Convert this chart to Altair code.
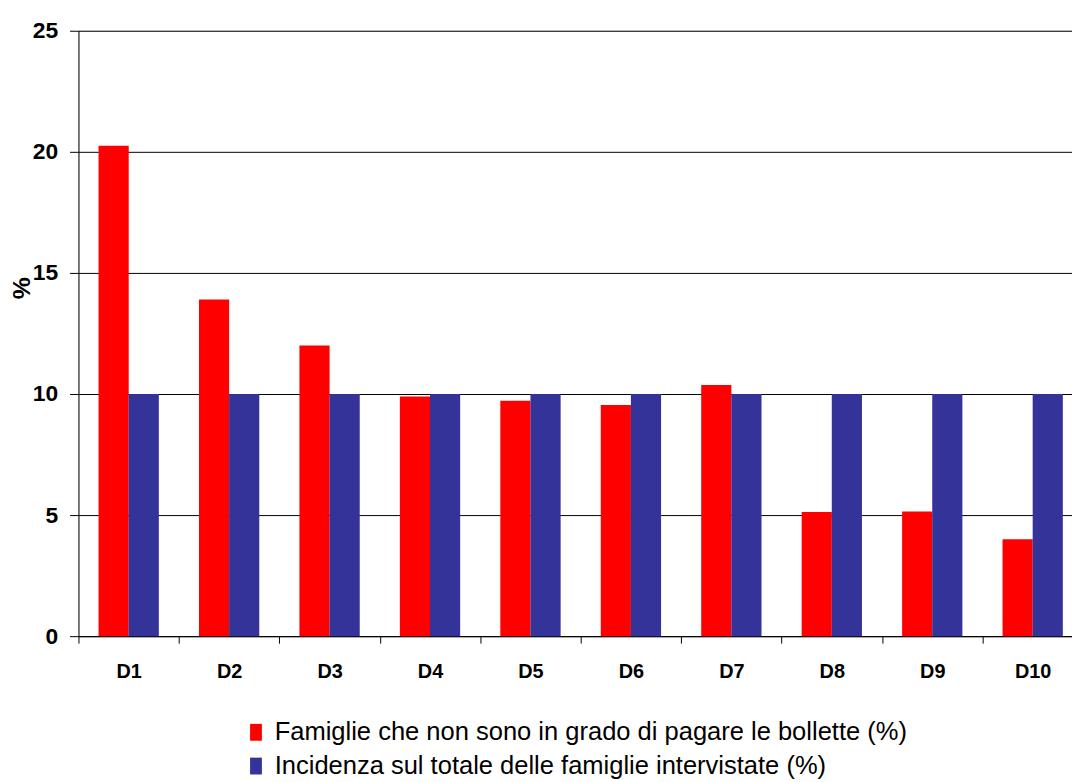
import altair as alt
import pandas as pd

categories = ["D1", "D2", "D3", "D4", "D5", "D6", "D7", "D8", "D9", "D10"]
series_names = [
    "Famiglie che non sono in grado di pagare le bollette (%)",
    "Incidenza sul totale delle famiglie intervistate (%)",
]
red_values = [20.25, 13.9, 12.0, 9.9, 9.72, 9.55, 10.37, 5.13, 5.15, 4.0]
blue_values = [10, 10, 10, 10, 10, 10, 10, 10, 10, 10]
colors = ["#FF0000", "#333399"]

rows = []
for c, r, b in zip(categories, red_values, blue_values):
    rows.append({"cat": c, "series": series_names[0], "value": r})
    rows.append({"cat": c, "series": series_names[1], "value": b})
df = pd.DataFrame(rows)

FONT = "Liberation Sans"

chart = alt.Chart(df).mark_bar(size=30.4).encode(
    x=alt.X(
        "cat:N",
        sort=categories,
        scale=alt.Scale(range=[0, 1012], paddingInner=0, paddingOuter=0),
        axis=alt.Axis(
            title=None, labelAngle=0, tickBand="extent", labelFont=FONT,
            labelFontSize=20, labelFontWeight="bold", labelColor="black",
            tickColor="black", tickSize=7, domainColor="black", labelPadding=19,
            grid=False,
        ),
    ),
    xOffset=alt.XOffset(
        "series:N", sort=series_names,
        scale=alt.Scale(paddingInner=0, paddingOuter=0.667),
    ),
    y=alt.Y(
        "value:Q",
        scale=alt.Scale(domain=[0, 25], nice=False),
        axis=alt.Axis(
            title="%", values=[0, 5, 10, 15, 20, 25], labelFont=FONT,
            labelFontSize=23, labelFontWeight="bold", labelColor="black",
            tickColor="black", tickSize=9, labelPadding=12, domainColor="black",
            gridColor="black", gridWidth=1, gridOpacity=1,
            titleFont=FONT, titleFontSize=25, titleFontWeight="bold",
            titleColor="black", titleX=-57, titleY=259, titleAngle=-90,
            titleBaseline="middle", titleAlign="center",
        ),
    ),
    color=alt.Color(
        "series:N", sort=series_names,
        scale=alt.Scale(domain=series_names, range=colors),
        legend=alt.Legend(
            title=None, orient="none", legendX=166, legendY=694,
            direction="vertical",
            symbolType="M-0.7,-1H0.7V1H-0.7Z", symbolSize=289,
            symbolStrokeWidth=0, labelFont=FONT, labelFontSize=25.7,
            labelColor="black", rowPadding=7, labelOffset=6, padding=0,
            labelLimit=900,
        ),
    ),
).properties(
    width=1001,
    height=610,
    autosize=alt.AutoSizeParams(type="none"),
    padding={"left": 71, "top": 20, "right": 0, "bottom": 144},
).configure_view(stroke=None).configure(background="white")

chart.save("out.html", embed_options={"renderer": "svg", "actions": False})
